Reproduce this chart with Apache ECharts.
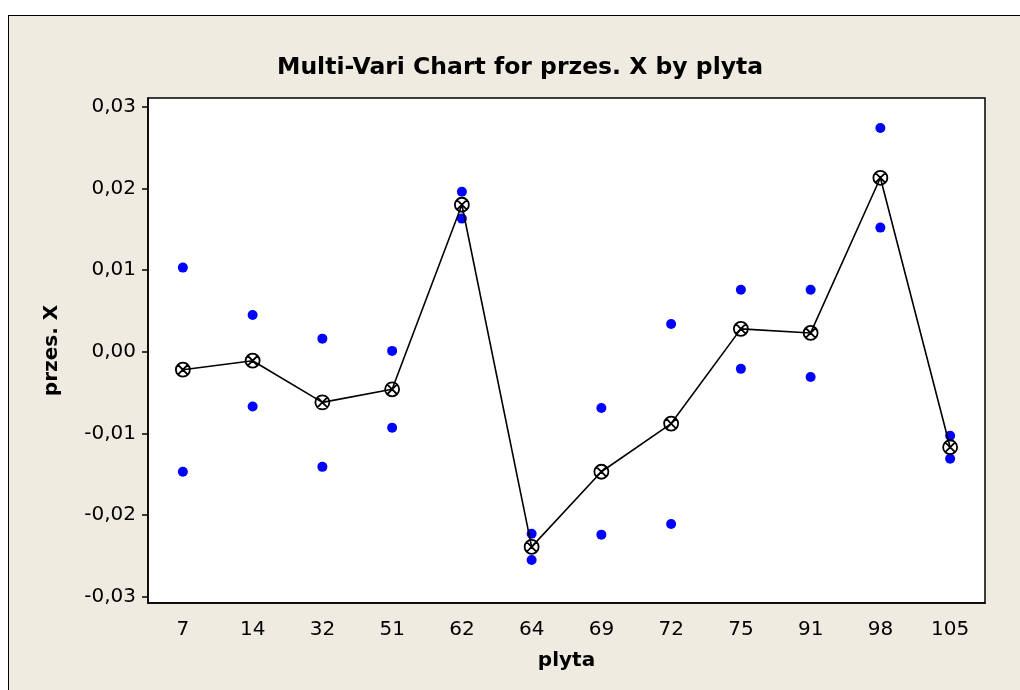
<!DOCTYPE html>
<html>
<head>
<meta charset="utf-8">
<script src="https://cdn.jsdelivr.net/npm/echarts@6/dist/echarts.min.js"></script>
<style>
  html, body { margin: 0; padding: 0; background: #ffffff; }
  #frame {
    position: absolute; left: 8px; top: 15px; width: 1100px; height: 800px;
    background: #EFEBE1; border: 1.5px solid #000; box-sizing: border-box;
  }
  #chart { position: absolute; left: 0; top: 0; width: 1020px; height: 690px; }
</style>
</head>
<body>
<div id="frame"></div>
<div id="chart"></div>
<script>
// Plates (plyta) and the two measurements of przes. X on each
const plates = ['7', '14', '32', '51', '62', '64', '69', '72', '75', '91', '98', '105'];
const obsUpper = [0.0103, 0.0045, 0.0016, 0.0001, 0.0196, -0.0223, -0.0069, 0.0034, 0.0076, 0.0076, 0.0274, -0.0103];
const obsLower = [-0.0147, -0.0067, -0.0141, -0.0093, 0.0163, -0.0255, -0.0224, -0.0211, -0.0021, -0.0031, 0.0152, -0.0131];
// Mean of each plate (connected line)
const plateMeans = [-0.0022, -0.0011, -0.0062, -0.0046, 0.0180, -0.0239, -0.0147, -0.0088, 0.0028, 0.0023, 0.0213, -0.0117];
// Y axis tick values
const yTicks = [-0.03, -0.02, -0.01, 0, 0.01, 0.02, 0.03];

const FONT = 'DejaVu Sans';
const chart = echarts.init(document.getElementById('chart'), null, { renderer: 'canvas' });

const meanSymbol = 'path://M0,-10A10,10,0,1,1,0,10A10,10,0,1,1,0,-10Z M-7.07,-7.07L7.07,7.07 M7.07,-7.07L-7.07,7.07';

chart.setOption({
  backgroundColor: 'transparent',
  animation: false,
  title: {
    text: 'Multi-Vari Chart for przes. X by plyta',
    left: 272,
    top: 51,
    textStyle: { fontFamily: FONT, fontSize: 23.5, fontWeight: 'bold', color: '#000' }
  },
  grid: {
    left: 148, top: 98, width: 837, height: 505,
    show: true, backgroundColor: '#ffffff', borderColor: '#000', borderWidth: 1.5
  },
  xAxis: {
    type: 'category',
    data: plates,
    boundaryGap: true,
    name: 'plyta',
    nameLocation: 'middle',
    nameGap: 48,
    nameTextStyle: { fontFamily: FONT, fontSize: 20, fontWeight: 'bold', color: '#000' },
    axisLine: { onZero: false, lineStyle: { color: '#000', width: 1.5 } },
    axisTick: { alignWithLabel: true, length: 6, lineStyle: { color: '#000', width: 1.5 } },
    axisLabel: { fontFamily: FONT, fontSize: 20, color: '#000', margin: 17 },
    splitLine: { show: false }
  },
  yAxis: {
    type: 'value',
    min: -0.03077,
    max: 0.03107,
    name: 'przes. X',
    nameLocation: 'middle',
    nameGap: 86,
    nameTextStyle: { fontFamily: FONT, fontSize: 20, fontWeight: 'bold', color: '#000' },
    axisLine: { show: true, onZero: false, lineStyle: { color: '#000', width: 1.5 } },
    axisTick: { show: true, length: 6, customValues: yTicks, lineStyle: { color: '#000', width: 1.5 } },
    axisLabel: {
      fontFamily: FONT, fontSize: 20, color: '#000', margin: 12,
      customValues: yTicks,
      formatter: v => v.toFixed(2).replace('.', ',')
    },
    splitLine: { show: false }
  },
  series: [
    {
      type: 'scatter',
      data: plates.map((p, i) => [i, obsUpper[i]]),
      symbol: 'circle', symbolSize: 10,
      itemStyle: { color: '#0000FF', opacity: 1 },
      z: 2
    },
    {
      type: 'scatter',
      data: plates.map((p, i) => [i, obsLower[i]]),
      symbol: 'circle', symbolSize: 10,
      itemStyle: { color: '#0000FF', opacity: 1 },
      z: 2
    },
    {
      type: 'line',
      data: plates.map((p, i) => [i, plateMeans[i]]),
      symbol: meanSymbol, symbolSize: 14,
      showAllSymbol: true,
      lineStyle: { color: '#000', width: 1.6 },
      itemStyle: { color: 'rgba(0,0,0,0)', borderColor: '#000', borderWidth: 1.8 },
      z: 3
    }
  ]
});
</script>
</body>
</html>
